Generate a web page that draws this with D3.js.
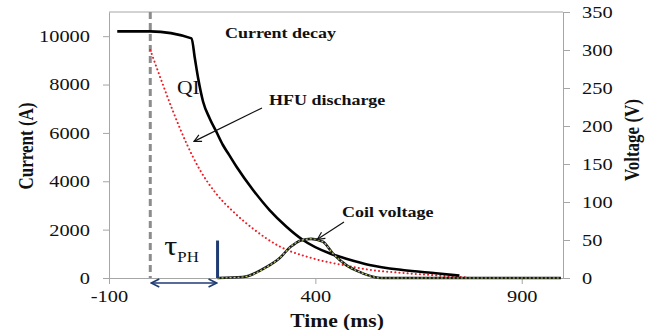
<!DOCTYPE html>
<html>
<head>
<meta charset="utf-8">
<script src="https://cdn.jsdelivr.net/npm/d3@7"></script>
<style>
  body { margin: 0; background: #fff; }
  svg { font-family: "Liberation Serif", "Times New Roman", serif; }
  .axis path, .axis line { stroke: #a6a6a6; }
  .axis text { fill: #111; font-size: 17px; font-family: "Liberation Serif", serif; }
</style>
</head>
<body>
<div id="chart"></div>
<script>
// QI current (black solid)
const qiTime = [-80, 0, 100, 108, 116, 128, 144, 160, 176, 191, 209, 249, 289, 330, 370, 434, 475, 531, 611, 692, 749];
const qiCurrent = [10200, 10200, 9910, 9085, 8260, 7290, 6600, 6050, 5500, 5090, 4600, 3640, 2810, 2120, 1570, 1020, 800, 540, 330, 195, 100];

// HFU discharge (red dotted)
const hfuTime = [0, 23, 55, 89, 120, 160, 200, 249, 313, 394, 475, 531, 611, 692, 765];
const hfuCurrent = [9430, 8350, 6900, 5520, 4480, 3480, 2760, 2040, 1310, 810, 510, 340, 210, 110, 30];

// Coil voltage (right axis)
const voltTime = [163, 224, 282, 313, 340, 365, 390, 418, 442, 475, 507, 539, 560, 995];
const voltage = [0, 1.3, 14.5, 26, 41, 49.5, 51.5, 47.8, 32.5, 17, 8, 1.7, 0, 0];

// Ticks
const xTicks = [-100, 400, 900];
const currentTicks = [0, 2000, 4000, 6000, 8000, 10000];
const voltTicks = [0, 50, 100, 150, 200, 250, 300, 350];

// Markers in time
const tStart = 0;      // heater firing
const tQuench = 163;   // end of tau_PH

const width = 647, height = 330;
const margin = {top: 12, right: 84, bottom: 52, left: 109};
const boundedWidth = width - margin.left - margin.right;
const boundedHeight = height - margin.top - margin.bottom;
const sx = 1.2; // the original text is drawn a bit wide

const xScale = d3.scaleLinear().domain([-100, 1000]).range([0, boundedWidth]);
const yScale = d3.scaleLinear().domain([0, 11000]).range([boundedHeight, 0]);
const yScaleV = d3.scaleLinear().domain([0, 350]).range([boundedHeight, 0]);

const svg = d3.select("#chart").append("svg")
    .attr("width", width)
    .attr("height", height);

const defs = svg.append("defs");
defs.append("marker")
    .attr("id", "arrowBlack")
    .attr("viewBox", "0 0 10 10")
    .attr("refX", 9).attr("refY", 5)
    .attr("markerWidth", 9).attr("markerHeight", 9)
    .attr("markerUnits", "userSpaceOnUse")
    .attr("orient", "auto-start-reverse")
    .append("path")
        .attr("d", "M1,1 L9,5 L1,9")
        .attr("fill", "none")
        .attr("stroke", "#111")
        .attr("stroke-width", 1.3);
defs.append("marker")
    .attr("id", "arrowBlue")
    .attr("viewBox", "0 0 10 10")
    .attr("refX", 9).attr("refY", 5)
    .attr("markerWidth", 10).attr("markerHeight", 10)
    .attr("markerUnits", "userSpaceOnUse")
    .attr("orient", "auto-start-reverse")
    .append("path")
        .attr("d", "M1,1 L9,5 L1,9")
        .attr("fill", "none")
        .attr("stroke", "#1f3b73")
        .attr("stroke-width", 1.6);

const bounds = svg.append("g")
    .attr("transform", `translate(${margin.left},${margin.top})`);

// widen a text placed at (x, y)
function wideText(parent, x, y, str) {
    return parent.append("text")
        .attr("transform", `translate(${x},${y}) scale(${sx},1)`)
        .text(str);
}

// Frame top line
bounds.append("line")
    .attr("x1", 0).attr("x2", boundedWidth)
    .attr("y1", 0).attr("y2", 0)
    .attr("stroke", "#a6a6a6");

// Axes
const yAxisL = bounds.append("g")
    .attr("class", "axis")
    .call(d3.axisLeft(yScale).tickValues(currentTicks).tickFormat(d => d)
        .tickSize(6).tickSizeOuter(0).tickPadding(13));

const yAxisR = bounds.append("g")
    .attr("class", "axis")
    .attr("transform", `translate(${boundedWidth},0)`)
    .call(d3.axisRight(yScaleV).tickValues(voltTicks).tickFormat(d => d)
        .tickSize(7).tickSizeOuter(0).tickPadding(12));

const xAxis = bounds.append("g")
    .attr("class", "axis")
    .attr("transform", `translate(0,${boundedHeight})`)
    .call(d3.axisBottom(xScale).tickValues(xTicks).tickFormat(d => d)
        .tickSize(6).tickSizeOuter(0).tickPadding(6));

[yAxisL, yAxisR, xAxis].forEach(ax => {
    ax.attr("font-family", null).attr("font-size", null);
    ax.selectAll("text").each(function() {
        const t = d3.select(this);
        t.attr("x", (+t.attr("x") || 0) / sx).attr("transform", `scale(${sx},1)`);
    });
});

// Heater start dashed line
bounds.append("line")
    .attr("x1", xScale(tStart)).attr("x2", xScale(tStart))
    .attr("y1", 0).attr("y2", boundedHeight)
    .attr("stroke", "#8c8c8c")
    .attr("stroke-width", 3)
    .attr("stroke-dasharray", "7,4");

const lineI = d3.line().curve(d3.curveMonotoneX);

// HFU discharge
bounds.append("path")
    .attr("d", lineI(hfuTime.map((t, i) => [xScale(t), yScale(hfuCurrent[i])])))
    .attr("fill", "none")
    .attr("stroke", "#ee1c25")
    .attr("stroke-width", 2)
    .attr("stroke-linecap", "round")
    .attr("stroke-dasharray", "0.1,4");

// QI current
bounds.append("path")
    .attr("d", lineI(qiTime.map((t, i) => [xScale(t), yScale(qiCurrent[i])])))
    .attr("fill", "none")
    .attr("stroke", "#000")
    .attr("stroke-width", 2.6);

// Coil voltage
const voltPts = voltTime.map((t, i) => [xScale(t), yScaleV(voltage[i])]);
bounds.append("path")
    .attr("d", lineI(voltPts))
    .attr("fill", "none")
    .attr("stroke", "#1a1a1a")
    .attr("stroke-width", 2.6);
bounds.append("path")
    .attr("d", lineI(voltPts))
    .attr("fill", "none")
    .attr("stroke", "#b5d36b")
    .attr("stroke-width", 1.2)
    .attr("stroke-dasharray", "2,2");

// tau_PH marker
bounds.append("line")
    .attr("x1", xScale(tQuench)).attr("x2", xScale(tQuench))
    .attr("y1", yScale(1550)).attr("y2", boundedHeight)
    .attr("stroke", "#1f3b73")
    .attr("stroke-width", 3);
bounds.append("line")
    .attr("x1", xScale(tStart) + 1).attr("x2", xScale(tQuench) - 1)
    .attr("y1", boundedHeight + 5).attr("y2", boundedHeight + 5)
    .attr("stroke", "#1f3b73")
    .attr("stroke-width", 1.6)
    .attr("marker-start", "url(#arrowBlue)")
    .attr("marker-end", "url(#arrowBlue)");

const tau = wideText(bounds, xScale(tStart) + 14, 255 - margin.top, "")
    .attr("fill", "#111");
tau.append("tspan").attr("font-size", "27px").text("τ");
tau.append("tspan").attr("font-size", "14px").attr("dy", 7).text("PH");

// Annotations
const annot = bounds.append("g")
    .attr("font-weight", "bold")
    .attr("font-size", "15px")
    .attr("fill", "#111");

wideText(annot, 225 - margin.left, 38 - margin.top, "Current decay");
wideText(annot, 269 - margin.left, 105 - margin.top, "HFU discharge");
wideText(annot, 342 - margin.left, 217 - margin.top, "Coil voltage");

wideText(bounds, 177 - margin.left, 94 - margin.top, "QI")
    .attr("font-size", "18px")
    .attr("fill", "#111");

bounds.append("line")
    .attr("x1", 262 - margin.left).attr("y1", 108 - margin.top)
    .attr("x2", xScale(106)).attr("y2", yScale(5650))
    .attr("stroke", "#111")
    .attr("stroke-width", 1.2)
    .attr("marker-end", "url(#arrowBlack)");

bounds.append("line")
    .attr("x1", 344 - margin.left).attr("y1", 222 - margin.top)
    .attr("x2", xScale(405)).attr("y2", yScaleV(51))
    .attr("stroke", "#111")
    .attr("stroke-width", 1.2)
    .attr("marker-end", "url(#arrowBlack)");

// Axis labels
svg.append("text")
    .attr("transform", `translate(33,146) scale(${sx},1) rotate(-90)`)
    .attr("text-anchor", "middle")
    .attr("font-weight", "bold")
    .attr("font-size", "17px")
    .attr("fill", "#111")
    .text("Current (A)");

svg.append("text")
    .attr("transform", `translate(639,140) scale(${sx},1) rotate(-90)`)
    .attr("text-anchor", "middle")
    .attr("font-weight", "bold")
    .attr("font-size", "17px")
    .attr("fill", "#111")
    .text("Voltage (V)");

svg.append("text")
    .attr("transform", `translate(337,327) scale(${sx},1)`)
    .attr("text-anchor", "middle")
    .attr("font-weight", "bold")
    .attr("font-size", "18px")
    .attr("fill", "#111")
    .text("Time (ms)");
</script>
</body>
</html>
